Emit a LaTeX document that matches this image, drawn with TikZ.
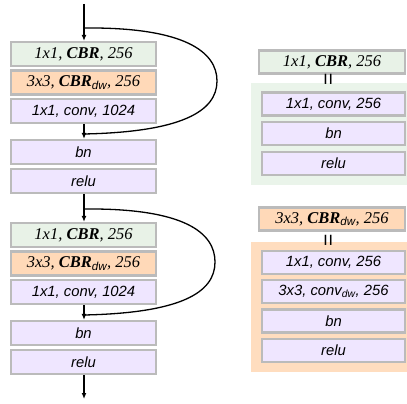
\documentclass[tikz,border=0pt]{standalone}
\usepackage{fontspec}
\setmainfont{Liberation Serif}
\newfontfamily\sansf{Liberation Sans}
\usetikzlibrary{arrows.meta}
\definecolor{bordergray}{HTML}{BBBBBB}
\definecolor{gfill}{HTML}{E8F2E7}
\definecolor{gpanel}{HTML}{EAF4EA}
\definecolor{ofill}{HTML}{FFD9B8}
\definecolor{opanel}{HTML}{FFDDBF}
\definecolor{pfill}{HTML}{EFE6FF}
\newcommand{\serifit}[1]{{\fontsize{16.5}{18}\selectfont\itshape #1}}
\newcommand{\sansit}[1]{{\sansf\fontsize{14.8}{16}\selectfont\itshape #1}}
\newcommand{\dwsub}{\textsubscript{\sansf\itshape dw}}
\tikzset{
  box/.style={draw=bordergray, line width=2.2pt, minimum width=145pt, minimum height=24pt, inner sep=0pt},
  rbox/.style={box, minimum width=146pt, minimum height=23pt},
  ribox/.style={box, minimum width=143pt, minimum height=23pt},
  gbox/.style={fill=gfill},
  obox/.style={fill=ofill},
  pbox/.style={fill=pfill},
  flow/.style={line width=1.3pt, -{Latex[length=6pt,width=5pt]}},
  loopline/.style={line width=1.3pt},
  eqsign/.style={rotate=90, inner sep=0pt, font=\sansf\fontsize{21}{22}\selectfont},
}
\begin{document}
\begin{tikzpicture}[x=1pt,y=-1pt]
\useasboundingbox (0,0) rectangle (407,404);
% right panels
\fill[gpanel] (251,83) rectangle (407,185);
\fill[opanel] (251,242) rectangle (407,372);

% left block 1
\node[box,gbox] (a1) at (83.5,54) {\serifit{1x1, \textbf{CBR}, 256}};
\node[box,obox] (a2) at (83.5,82.5) {\serifit{3x3, \textbf{CBR}\dwsub, 256}};
\node[box,pbox] (a3) at (83.5,111) {\sansit{1x1, conv, 1024}};
\node[box,pbox] (a4) at (83.5,152) {\sansit{bn}};
\node[box,pbox] (a5) at (83.5,181) {\sansit{relu}};
% left block 2
\node[box,gbox] (b1) at (83.5,235) {\serifit{1x1, \textbf{CBR}, 256}};
\node[box,obox] (b2) at (83.5,263.5) {\serifit{3x3, \textbf{CBR}\dwsub, 256}};
\node[box,pbox] (b3) at (83.5,292) {\sansit{1x1, conv, 1024}};
\node[box,pbox] (b4) at (83.5,333) {\sansit{bn}};
\node[box,pbox] (b5) at (83.5,362) {\sansit{relu}};

\coordinate (top) at (84,4);
\coordinate (bot) at (84,399);
\coordinate (s1) at (84,28);
\coordinate (e1) at (84,134);
\coordinate (s2) at (84,209);
\coordinate (e2) at (84,315);

\draw[flow] (top) -- (a1.north -| top);
\draw[flow] (a3.south -| top) -- (a4.north -| top);
\draw[flow] (a5.south -| top) -- (b1.north -| top);
\draw[flow] (b3.south -| top) -- (b4.north -| top);
\draw[flow] (b5.south -| top) -- (bot);

\draw[loopline] (s1) .. controls (185,27) and (217,52) .. (217,81)
  .. controls (217,112) and (180,132) .. (e1);
\draw[loopline] (s2) .. controls (185,208) and (215,233) .. (215,262)
  .. controls (215,293) and (180,313) .. (e2);

% right column: CBR
\node[rbox,gbox] (c0) at (332,62) {\serifit{1x1, \textbf{CBR}, 256}};
\node[eqsign] (eq1) at (330,79) {=};
\node[ribox,pbox] (c1) at (333.5,104) {\sansit{1x1, conv, 256}};
\node[ribox,pbox] (c2) at (333.5,133.5) {\sansit{bn}};
\node[ribox,pbox] (c3) at (333.5,163.5) {\sansit{relu}};

% right column: CBR_dw
\node[rbox,obox] (d0) at (332,219) {\serifit{3x3, \textbf{CBR}\dwsub, 256}};
\node[eqsign] (eq2) at (330,240) {=};
\node[ribox,pbox] (d1) at (333.5,262.5) {\sansit{1x1, conv, 256}};
\node[ribox,pbox] (d2) at (333.5,291.5) {\sansit{3x3, conv\dwsub, 256}};
\node[ribox,pbox] (d3) at (333.5,321) {\sansit{bn}};
\node[ribox,pbox] (d4) at (333.5,350.5) {\sansit{relu}};
\end{tikzpicture}
\end{document}
